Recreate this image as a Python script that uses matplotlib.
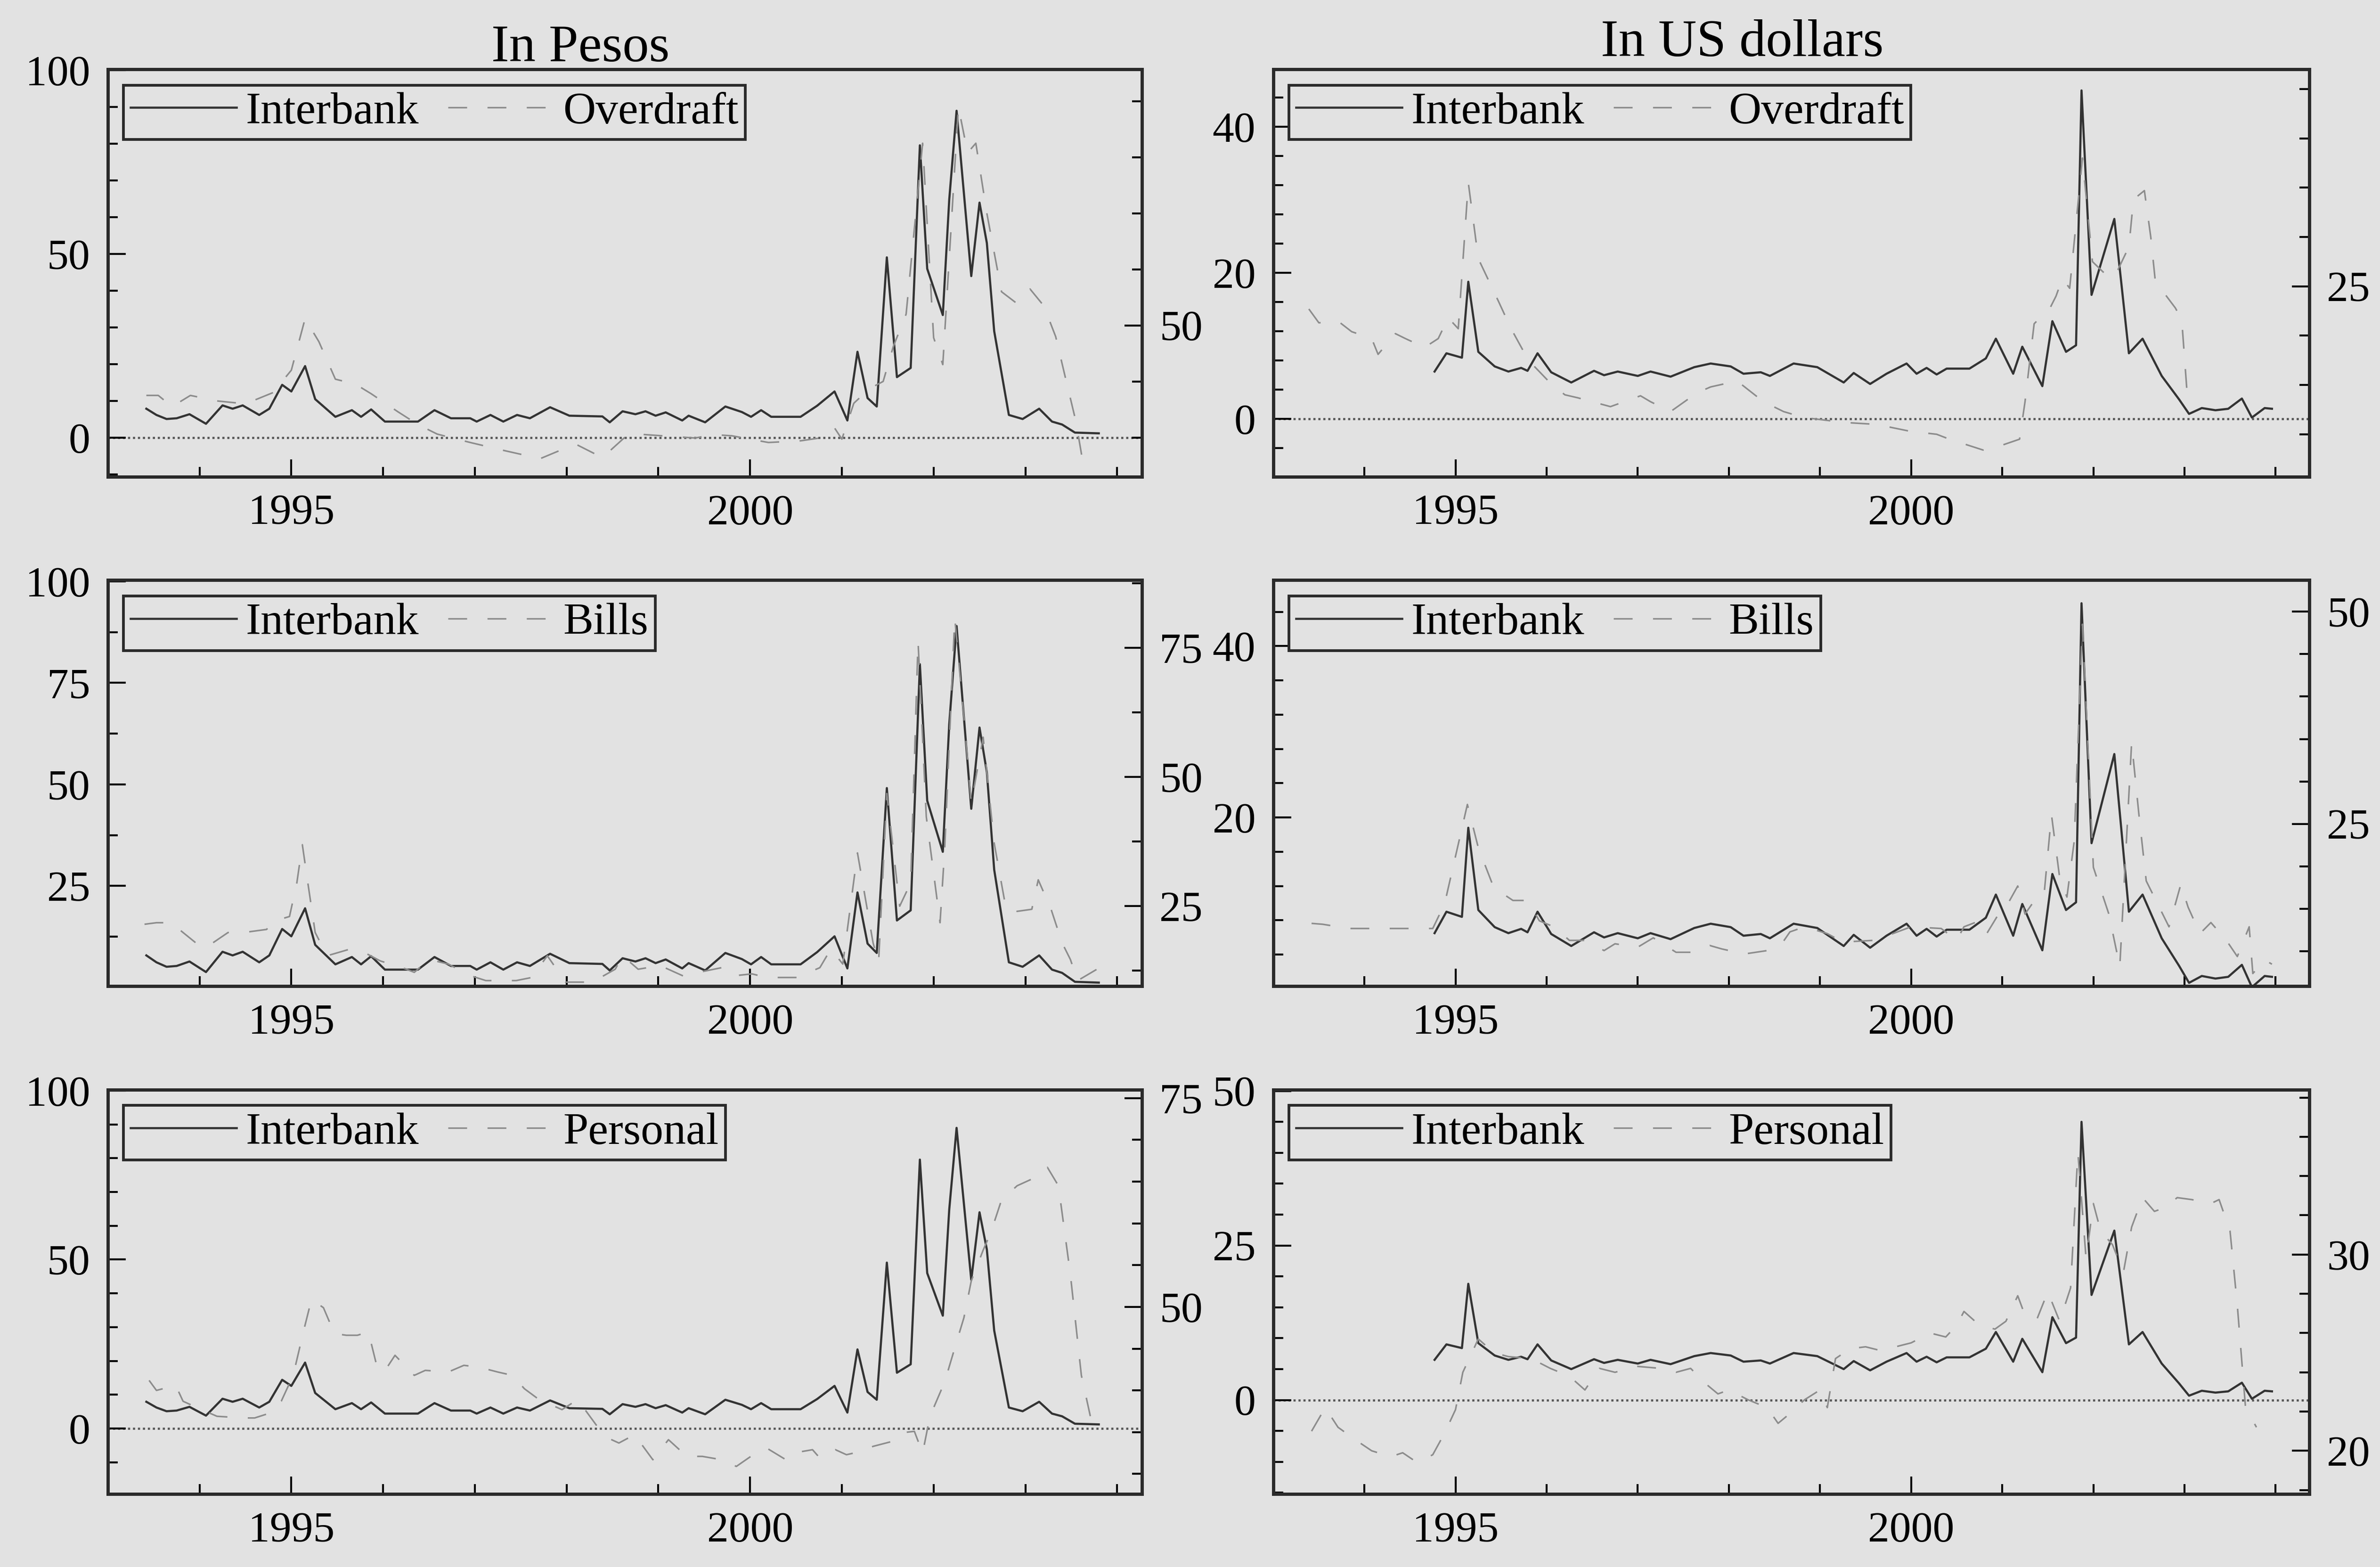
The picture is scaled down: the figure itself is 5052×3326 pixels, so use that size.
import matplotlib
matplotlib.use("Agg")
import matplotlib.pyplot as plt
from matplotlib.ticker import MultipleLocator, FormatStrFormatter

plt.rcParams['font.family'] = ['Liberation Serif', 'DejaVu Serif']

# ---- data (decimal year, rate in %) ----
interbank_pesos = [
    (1993.42, 7.9), (1993.53, 6.2), (1993.64, 5.1), (1993.75, 5.3), (1993.89, 6.4),
    (1994.07, 3.8), (1994.25, 8.8), (1994.36, 7.9), (1994.47, 8.8), (1994.65, 6.2),
    (1994.76, 7.9), (1994.90, 14.4), (1995.00, 12.6), (1995.15, 19.5), (1995.26, 10.5),
    (1995.48, 5.7), (1995.66, 7.5), (1995.76, 5.7), (1995.87, 7.7), (1996.02, 4.4),
    (1996.38, 4.4), (1996.56, 7.5), (1996.74, 5.3), (1996.95, 5.3), (1997.02, 4.4),
    (1997.17, 6.2), (1997.31, 4.4), (1997.46, 6.2), (1997.60, 5.3), (1997.82, 8.3),
    (1998.03, 6.0), (1998.39, 5.8), (1998.47, 4.2), (1998.61, 7.2), (1998.75, 6.4),
    (1998.86, 7.2), (1998.97, 6.0), (1999.08, 6.9), (1999.26, 4.7), (1999.33, 6.0),
    (1999.51, 4.2), (1999.73, 8.5), (1999.91, 7.0), (2000.01, 5.7), (2000.12, 7.5),
    (2000.23, 5.7), (2000.55, 5.7), (2000.73, 8.7), (2000.92, 12.6), (2001.06, 4.7),
    (2001.17, 23.4), (2001.28, 10.8), (2001.38, 8.5), (2001.49, 49.1), (2001.60, 16.5),
    (2001.75, 19.0), (2001.85, 79.6), (2001.93, 46.0), (2002.10, 33.4), (2002.17, 64.8),
    (2002.25, 89.0), (2002.41, 44.0), (2002.50, 64.0), (2002.58, 53.0), (2002.66, 29.0),
    (2002.82, 6.2), (2002.97, 5.1), (2003.15, 7.9), (2003.29, 4.4), (2003.40, 3.6),
    (2003.54, 1.4), (2003.80, 1.2),
]

interbank_dollars = [
    (1994.77, 6.5), (1994.90, 9.0), (1995.07, 8.4), (1995.14, 18.8), (1995.25, 9.2),
    (1995.43, 7.2), (1995.58, 6.5), (1995.72, 7.0), (1995.79, 6.6), (1995.90, 9.0),
    (1996.05, 6.4), (1996.27, 5.0), (1996.52, 6.6), (1996.63, 6.0), (1996.78, 6.5),
    (1997.00, 5.9), (1997.14, 6.5), (1997.36, 5.8), (1997.62, 7.1), (1997.80, 7.6),
    (1998.02, 7.2), (1998.16, 6.2), (1998.35, 6.4), (1998.45, 5.9), (1998.71, 7.6),
    (1998.97, 7.1), (1999.26, 5.0), (1999.37, 6.3), (1999.55, 4.8), (1999.73, 6.2),
    (1999.95, 7.6), (2000.06, 6.2), (2000.17, 7.0), (2000.28, 6.1), (2000.39, 6.9),
    (2000.64, 6.9), (2000.82, 8.3), (2000.93, 11.0), (2001.12, 6.2), (2001.22, 9.9),
    (2001.44, 4.5), (2001.55, 13.4), (2001.70, 9.2), (2001.81, 10.1), (2001.87, 45.0),
    (2001.98, 17.0), (2002.23, 27.4), (2002.30, 19.4), (2002.39, 9.0), (2002.54, 11.0),
    (2002.75, 5.9), (2002.94, 2.7), (2003.05, 0.7), (2003.19, 1.5), (2003.34, 1.2),
    (2003.48, 1.4), (2003.63, 2.8), (2003.74, 0.2), (2003.88, 1.5), (2003.96, 1.4),
]

overdraft_pesos = [
    (1993.42, 37.5), (1993.55, 37.5), (1993.70, 35.5), (1993.90, 37.5), (1994.20, 36.5),
    (1994.50, 36.0), (1994.80, 38.0), (1995.00, 42.0), (1995.15, 51.2), (1995.30, 47.1),
    (1995.48, 40.4), (1995.70, 39.5), (1995.87, 37.8), (1996.16, 34.6), (1996.38, 32.3),
    (1996.59, 30.6), (1996.95, 29.1), (1997.31, 27.7), (1997.50, 27.0), (1997.71, 26.2),
    (1997.90, 27.5), (1998.10, 28.8), (1998.39, 26.4), (1998.68, 30.7), (1999.04, 30.3),
    (1999.40, 29.9), (1999.60, 30.5), (1999.80, 30.3), (2000.20, 29.1), (2000.55, 29.4),
    (2000.80, 30.0), (2000.92, 31.7), (2001.00, 29.7), (2001.13, 36.1), (2001.30, 38.7),
    (2001.45, 40.0), (2001.56, 46.2), (2001.70, 52.0), (2001.88, 82.5), (2002.00, 47.8),
    (2002.10, 43.0), (2002.27, 89.0), (2002.37, 80.8), (2002.46, 82.5), (2002.58, 70.0),
    (2002.74, 56.0), (2002.90, 54.0), (2003.05, 56.5), (2003.20, 53.5), (2003.33, 48.0),
    (2003.44, 40.4), (2003.55, 32.9), (2003.62, 26.2),
]

overdraft_dollars = [
    (1993.39, 22.7), (1993.50, 21.3), (1993.72, 21.4), (1993.86, 20.4), (1994.08, 19.7),
    (1994.15, 18.1), (1994.34, 20.2), (1994.45, 19.7), (1994.66, 18.8), (1994.81, 19.7),
    (1994.92, 21.8), (1995.03, 20.7), (1995.14, 35.5), (1995.25, 27.8), (1995.47, 23.5),
    (1995.61, 20.7), (1995.80, 17.5), (1996.05, 15.1), (1996.20, 14.0), (1996.34, 13.7),
    (1996.70, 12.8), (1997.03, 13.9), (1997.14, 13.3), (1997.36, 12.3), (1997.65, 14.2),
    (1997.80, 14.8), (1998.09, 15.4), (1998.38, 13.3), (1998.60, 12.3), (1998.82, 11.7),
    (1999.26, 11.2), (1999.62, 11.0), (1999.99, 10.3), (2000.28, 10.0), (2000.42, 9.5),
    (2000.79, 8.4), (2001.00, 8.9), (2001.19, 9.5), (2001.25, 13.3), (2001.35, 21.2),
    (2001.53, 22.9), (2001.59, 24.0), (2001.66, 25.8), (2001.74, 24.8), (2001.88, 38.0),
    (2001.99, 27.5), (2002.18, 25.8), (2002.25, 26.3), (2002.39, 29.0), (2002.44, 33.8),
    (2002.56, 34.7), (2002.63, 30.0), (2002.68, 25.5), (2002.90, 22.8), (2002.97, 21.6),
    (2003.03, 14.0),
]

bills_pesos = [
    (1993.40, 21.5), (1993.53, 21.8), (1993.69, 21.8), (1993.82, 19.9), (1993.98, 17.6),
    (1994.07, 17.0), (1994.31, 19.9), (1994.48, 19.9), (1994.73, 20.5), (1994.81, 22.1),
    (1994.98, 23.0), (1995.06, 29.5), (1995.12, 36.9), (1995.18, 29.5), (1995.26, 19.9),
    (1995.39, 15.4), (1995.64, 16.7), (1995.80, 16.0), (1995.97, 14.4), (1996.21, 13.1),
    (1996.34, 12.2), (1996.50, 14.7), (1996.71, 13.8), (1996.96, 11.5), (1997.12, 10.6),
    (1997.45, 10.6), (1997.62, 11.2), (1997.79, 15.4), (1997.99, 10.3), (1998.28, 10.3),
    (1998.53, 12.8), (1998.61, 15.4), (1998.78, 12.8), (1999.02, 13.5), (1999.27, 11.5),
    (1999.44, 12.2), (1999.69, 13.1), (1999.81, 11.5), (2000.02, 11.9), (2000.18, 11.2),
    (2000.51, 11.2), (2000.76, 13.1), (2000.88, 16.7), (2001.01, 13.8), (2001.17, 35.3),
    (2001.34, 17.9), (2001.40, 14.1), (2001.49, 46.8), (2001.63, 25.0), (2001.75, 29.5),
    (2001.83, 76.3), (2001.92, 42.3), (2002.07, 21.8), (2002.12, 35.9), (2002.23, 80.8),
    (2002.33, 61.5), (2002.41, 44.9), (2002.54, 57.7), (2002.66, 37.2), (2002.79, 24.4),
    (2002.91, 24.0), (2003.07, 24.4), (2003.14, 30.1), (2003.28, 24.4), (2003.40, 17.9),
    (2003.49, 14.7), (2003.57, 10.6), (2003.78, 12.8),
]

bills_dollars = [
    (1993.42, 13.3), (1993.54, 13.2), (1993.83, 12.7), (1994.75, 12.7), (1994.88, 15.6),
    (1995.13, 27.3), (1995.25, 22.2), (1995.42, 17.5), (1995.63, 16.0), (1995.79, 16.0),
    (1995.92, 13.6), (1996.08, 12.9), (1996.25, 11.3), (1996.42, 11.3), (1996.63, 10.1),
    (1996.75, 10.9), (1997.00, 10.5), (1997.17, 11.6), (1997.42, 9.9), (1997.58, 9.9),
    (1997.79, 10.7), (1997.92, 10.3), (1998.17, 9.7), (1998.42, 10.1), (1998.58, 10.9),
    (1998.67, 12.3), (1998.83, 12.9), (1999.08, 12.1), (1999.25, 11.1), (1999.58, 11.3),
    (1999.75, 11.9), (2000.00, 12.9), (2000.33, 12.7), (2000.50, 11.3), (2000.58, 12.9),
    (2000.75, 13.6), (2000.83, 12.1), (2000.96, 14.4), (2001.04, 15.2), (2001.17, 17.7),
    (2001.25, 14.4), (2001.38, 16.4), (2001.46, 16.8), (2001.54, 26.1), (2001.63, 18.7),
    (2001.71, 16.4), (2001.79, 23.0), (2001.88, 48.5), (2002.00, 19.9), (2002.17, 14.4),
    (2002.29, 8.2), (2002.42, 34.6), (2002.50, 26.1), (2002.58, 18.3), (2002.83, 12.9),
    (2002.96, 17.9), (2003.04, 15.2), (2003.17, 12.1), (2003.29, 13.4), (2003.46, 11.3),
    (2003.58, 9.4), (2003.71, 12.9), (2003.75, 7.4), (2003.88, 9.0), (2003.96, 8.5),
]

personal_pesos = [
    (1993.45, 41.2), (1993.53, 40.0), (1993.74, 40.6), (1993.82, 38.7), (1993.98, 37.9),
    (1994.19, 36.9), (1994.48, 36.7), (1994.60, 36.7), (1994.77, 37.3), (1994.89, 38.7),
    (1995.02, 41.8), (1995.14, 47.4), (1995.22, 50.9), (1995.35, 49.9), (1995.47, 46.8),
    (1995.60, 46.6), (1995.72, 46.6), (1995.84, 47.0), (1995.93, 43.0), (1996.01, 42.2),
    (1996.13, 44.2), (1996.34, 41.8), (1996.46, 42.4), (1996.71, 42.2), (1996.88, 43.0),
    (1997.04, 42.8), (1997.25, 42.2), (1997.41, 41.8), (1997.54, 40.2), (1997.70, 38.9),
    (1997.95, 37.7), (1998.12, 38.9), (1998.36, 35.3), (1998.45, 34.3), (1998.57, 33.7),
    (1998.74, 34.7), (1998.94, 31.7), (1999.11, 34.1), (1999.31, 32.1), (1999.48, 32.1),
    (1999.69, 31.7), (1999.85, 30.9), (2000.06, 32.5), (2000.18, 33.1), (2000.39, 31.7),
    (2000.47, 32.5), (2000.68, 32.9), (2000.76, 31.9), (2000.93, 32.9), (2001.05, 32.3),
    (2001.21, 32.7), (2001.34, 33.3), (2001.55, 33.9), (2001.63, 34.9), (2001.79, 35.1),
    (2001.88, 32.5), (2001.96, 36.9), (2002.12, 41.0), (2002.25, 45.8), (2002.33, 48.7),
    (2002.41, 53.1), (2002.54, 56.8), (2002.62, 58.8), (2002.74, 62.8), (2002.91, 64.5),
    (2003.07, 65.3), (2003.24, 66.7), (2003.36, 64.5), (2003.49, 53.9), (2003.61, 41.8),
    (2003.74, 35.3),
]

personal_dollars = [
    (1993.42, 21.0), (1993.57, 22.2), (1993.71, 21.2), (1993.92, 20.5), (1994.08, 20.0),
    (1994.29, 19.7), (1994.42, 19.9), (1994.58, 19.4), (1994.75, 19.8), (1994.88, 20.9),
    (1995.00, 22.1), (1995.08, 24.0), (1995.25, 25.7), (1995.42, 25.0), (1995.58, 24.8),
    (1995.83, 24.7), (1996.04, 24.2), (1996.25, 23.8), (1996.42, 23.1), (1996.58, 24.2),
    (1996.75, 24.0), (1997.00, 24.3), (1997.25, 24.2), (1997.42, 24.0), (1997.58, 24.2),
    (1997.75, 23.4), (1997.88, 22.9), (1998.00, 23.1), (1998.21, 22.6), (1998.42, 22.2),
    (1998.54, 21.4), (1998.67, 21.9), (1998.83, 22.6), (1999.00, 23.1), (1999.08, 22.2),
    (1999.17, 24.7), (1999.33, 25.2), (1999.50, 25.3), (1999.67, 25.1), (1999.83, 25.3),
    (2000.00, 25.5), (2000.21, 26.0), (2000.38, 25.8), (2000.50, 26.4), (2000.58, 27.1),
    (2000.75, 26.4), (2000.92, 26.2), (2001.04, 26.6), (2001.17, 27.9), (2001.25, 26.9),
    (2001.38, 26.7), (2001.50, 28.1), (2001.63, 26.6), (2001.75, 28.3), (2001.83, 35.2),
    (2001.92, 29.8), (2002.00, 32.6), (2002.08, 31.2), (2002.21, 30.5), (2002.33, 29.1),
    (2002.42, 31.4), (2002.54, 32.9), (2002.67, 32.2), (2002.79, 32.4), (2002.92, 32.9),
    (2003.08, 32.8), (2003.29, 32.6), (2003.38, 32.8), (2003.50, 31.2), (2003.58, 27.4),
    (2003.67, 22.2), (2003.79, 21.2),
]

titles = ["In Pesos", "In US dollars"]
other_names = ["Overdraft", "Bills", "Personal"]

BG = '#e2e2e2'
SOLID = '#333333'
DASH = '#8c8c8c'

fig = plt.figure(figsize=(5052 / 300, 3326 / 300), dpi=300, facecolor=BG)

cols = [(0.0453, 0.4798), (0.5350, 0.9703)]
rows = [(0.6958, 0.9558), (0.3706, 0.6298), (0.0466, 0.3046)]
xlims = [(1993.0, 2004.27), (1993.0, 2004.37)]

# (left ylim, left major, left minor, right ylim, right major, right minor)
scales = {
    (0, 0): ((-10.6, 100.3), 50, 10, (23.0, 95.7), 50, 10),
    (0, 1): ((-7.9, 47.9), 20, 4, (5.7, 47.0), 25, 5),
    (1, 0): ((0.3, 100.3), 25, 12.5, (9.5, 88.1), 25, 12.5),
    (1, 1): ((0.3, 47.7), 20, 4, (5.9, 53.7), 25, 5),
    (2, 0): ((-19.4, 100.3), 50, 10, (27.6, 76.0), 25, 5),
    (2, 1): ((-15.2, 50.2), 25, 5, (17.8, 38.4), 10, 2),
}

series = {
    (0, 0): (interbank_pesos, overdraft_pesos),
    (0, 1): (interbank_dollars, overdraft_dollars),
    (1, 0): (interbank_pesos, bills_pesos),
    (1, 1): (interbank_dollars, bills_dollars),
    (2, 0): (interbank_pesos, personal_pesos),
    (2, 1): (interbank_dollars, personal_dollars),
}

TICK_FS = 22
for r in range(3):
    for c in range(2):
        x0, x1 = cols[c]
        y0, y1 = rows[r]
        ax = fig.add_axes([x0, y0, x1 - x0, y1 - y0], facecolor=BG)
        ax2 = ax.twinx()
        ib, other = series[(r, c)]
        yl, lmaj, lmin, yr, rmaj, rmin = scales[(r, c)]

        l1, = ax.plot([p[0] for p in ib], [p[1] for p in ib], color=SOLID, lw=1.1,
                      label="Interbank")
        l2, = ax2.plot([p[0] for p in other], [p[1] for p in other], color=DASH, lw=0.8,
                       ls=(0, (12, 13)), label=other_names[r])
        if yl[0] < 0:
            ax.axhline(0, color='#555555', lw=1.1, ls=(0, (1, 1.3)), zorder=1)

        ax.set_xlim(*xlims[c])
        ax.set_ylim(*yl)
        ax2.set_ylim(*yr)

        ax.xaxis.set_major_locator(MultipleLocator(5))
        ax.xaxis.set_minor_locator(MultipleLocator(1))
        ax.yaxis.set_major_locator(MultipleLocator(lmaj))
        ax.yaxis.set_minor_locator(MultipleLocator(lmin))
        ax2.yaxis.set_major_locator(MultipleLocator(rmaj))
        ax2.yaxis.set_minor_locator(MultipleLocator(rmin))
        for a in (ax.xaxis, ax.yaxis, ax2.yaxis):
            a.set_major_formatter(FormatStrFormatter('%d'))

        ax.tick_params(which='both', direction='in', width=1.0, labelsize=TICK_FS,
                       pad=9, right=False, top=False)
        ax.tick_params(which='major', length=9)
        ax.tick_params(which='minor', length=5)
        ax2.tick_params(which='both', direction='in', width=1.0, labelsize=TICK_FS,
                        pad=9)
        ax2.tick_params(which='major', length=9)
        ax2.tick_params(which='minor', length=5)

        for a in (ax, ax2):
            for s in a.spines.values():
                s.set_linewidth(1.6)
                s.set_color('#2a2a2a')

        leg = ax2.legend(handles=[l1, l2], loc='upper left', ncol=2, fontsize=23,
                         frameon=True, fancybox=False, framealpha=1,
                         facecolor=BG, edgecolor='#2a2a2a', borderpad=0.15,
                         borderaxespad=0.35, handlelength=2.35, handletextpad=0.2,
                         columnspacing=0.65)
        leg.get_frame().set_linewidth(1.4)

fig.text(0.2439, 0.9609, titles[0], fontsize=27, ha='center', va='baseline')
fig.text(0.7320, 0.9642, titles[1], fontsize=27, ha='center', va='baseline')

fig.savefig("out.png", dpi=300, facecolor=BG)
